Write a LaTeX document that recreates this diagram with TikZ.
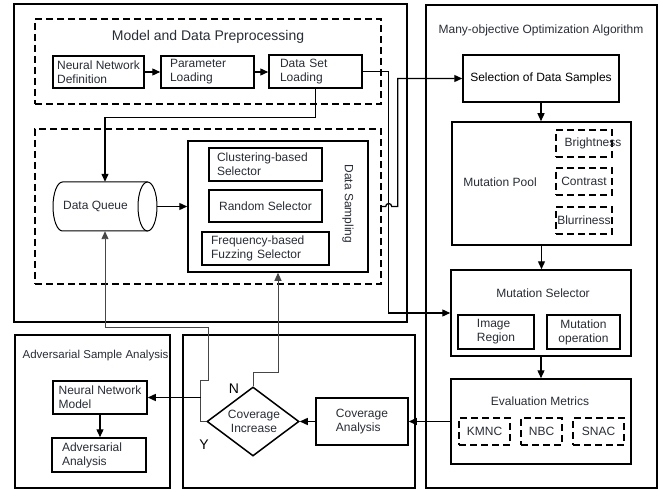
\documentclass[tikz,border=0pt]{standalone}
\usepackage{fontspec}
\setmainfont{Liberation Sans}
\usetikzlibrary{arrows.meta,shapes.geometric}
\definecolor{txt}{RGB}{40,44,54}
\definecolor{thinc}{RGB}{70,70,70}
\begin{document}
\begin{tikzpicture}[x=1pt,y=-1pt,
  font=\fontsize{12}{14}\selectfont, text=txt,
  sz/.style 2 args={minimum width=#1pt, minimum height=#2pt},
  box/.style={draw, line width=1.5pt, inner sep=0pt, align=center},
  outer/.style={draw, line width=1.3pt, inner sep=0pt},
  dbox/.style={draw, line width=1.4pt, dash pattern=on 7pt off 4pt, inner sep=0pt, align=center},
  arr/.style={line width=1.3pt, -{Triangle[length=8pt,width=7pt]}},
  thinarr/.style={line width=0.9pt, draw=thinc, -{Triangle[length=8pt,width=7pt]}},
  big/.style={font=\fontsize{14}{16}\selectfont}]
\useasboundingbox (0,0) rectangle (664,489);

% containers
\node[outer, sz={393}{318}] (lft) at (210.5,163) {};
\node[outer, sz={231}{483}] (rgt) at (541.5,246.5) {};
\node[outer, sz={155}{153}] (asa) at (92.5,411.5) {};
\node[outer, sz={232}{153}] (cov) at (299,411.5) {};
\node[dbox, sz={346}{85}] (pre) at (208,61.5) {};
\node[dbox, sz={346}{155}] (smp) at (208,206.5) {};

\node[big] (pret) at (208,37) {Model and Data Preprocessing};
\node (rgtt) at (541,30) {Many-objective Optimization Algorithm};
\node[font=\fontsize{11.5}{14}\selectfont] (asat) at (95.5,356) {Adversarial Sample Analysis};

% preprocessing
\node[box, sz={91}{32}, align=left] (nnd) at (98.5,72) {Neural Network\\Definition};
\node[box, sz={93}{32}, text width=75pt, inner xsep=9pt, align=left] (pl) at (207.5,72) {Parameter\\Loading};
\node[box, sz={93}{33}, text width=71pt, inner xsep=11pt, align=left] (dsl) at (315.5,71.5) {Data Set\\Loading};

% sampling
\node[box, sz={180}{131}] (ds) at (278,206.5) {};
\node[box, sz={113}{33}, text width=97pt, inner xsep=8pt, align=left] (cs) at (265.5,164.5) {Clustering-based\\Selector};
\node[box, sz={113}{32}] (rs) at (265.5,206) {Random Selector};
\node[box, sz={127}{33}, text width=109pt, inner xsep=9pt, align=left] (fs) at (265.5,248.5) {Frequency-based\\Fuzzing Selector};
\node[rotate=-90] (dst) at (348,204) {Data Sampling};

% data queue cylinder
\node[sz={104}{49}, inner sep=0pt] (dq) at (105,206.5) {};
\draw[line width=1pt] (147.5,182) -- (62.5,182) arc[start angle=270, end angle=90, x radius=9.5, y radius=24.5] -- (147.5,231);
\draw[line width=1pt] (147.5,206.5) ellipse [x radius=9.5, y radius=24.5];
\node (dqt) at (95.5,206.5) {Data Queue};

% right column
\node[box, sz={156}{47}, text=black] (sel) at (541,78.5) {Selection of Data Samples};
\node[box, sz={179}{123}] (mp) at (541.5,183.5) {};
\node (mpt) at (500,182) {Mutation Pool};
\node[dbox, sz={56}{27}] (br) at (584,143.5) {};
\node (brt) at (593,143.5) {Brightness};
\node[dbox, sz={56}{27}] (co) at (584,181.5) {Contrast};
\node[dbox, sz={56}{27}] (bl) at (584,220.5) {Blurriness};

\node[box, sz={180}{86}] (ms) at (541,313) {};
\node (mst) at (543,293) {Mutation Selector};
\node[box, sz={76}{34}, align=left] (ir) at (496,332) {Image\\Region};
\node[box, sz={73}{34}] (mo) at (583.5,332) {Mutation\\operation};

\node[box, sz={180}{85}] (em) at (541,421.5) {};
\node (emt) at (540,401) {Evaluation Metrics};
\node[dbox, sz={51}{27}] (km) at (484.5,431.5) {KMNC};
\node[dbox, sz={41}{27}] (nbc) at (541.5,431.5) {NBC};
\node[dbox, sz={51}{27}] (sn) at (598.5,431.5) {SNAC};

% bottom
\node[box, sz={94}{33}, align=left] (nnm) at (100,397.5) {Neural Network\\Model};
\node[box, sz={94}{34}, text width=74pt, inner xsep=10pt, align=left] (aa) at (99,455) {Adversarial\\Analysis};
\node[diamond, draw, line width=1.5pt, sz={92}{69}, inner sep=0pt] (ci) at (253,421.5) {};
\node[align=center] (cit) at (254,421) {Coverage\\Increase};
\node[box, sz={92}{47}, align=left] (ca) at (362,421.5) {Coverage\\Analysis};
\node[big, text=black] (nl) at (234,389) {N};
\node[big, text=black] (yl) at (204,445) {Y};

% connectors
\draw[arr] (nnd.east) -- (nnd.east -| pl.west);
\draw[arr] (pl.east) -- (pl.east -| dsl.west);
\draw[arr] (dsl.south) -- ++(0,29) -| (dq.north);
\draw[arr] (dq.east) -- (ds.west);
\draw[arr] (dsl.east) -- ++(26,0) |- (ms.west);
\draw[arr] (smp.east) -- ++(4,0) arc[start angle=180, end angle=360, radius=3] -- ++(6,0) |- (sel.west);
\draw[arr] (sel.south) -- (sel.south |- mp.north);
\draw[arr] (mp.south) -- (mp.south |- ms.north);
\draw[arr] (ms.south) -- (ms.south |- em.north);
\draw[arr] (em.west) -- (ca.east);
\draw[arr] (ca.west) -- (ci.east);
\draw[thinarr] (ci.north) -- ++(0,-14) -| (ds.south);
\draw[thinarr] (ci.west) -- ++(-6,0) -- ++(0,-41.5) -- ++(8,0) -- ++(0,-53) -| (dq.south);
\coordinate (yb) at (201,397.5);
\draw[arr] (yb) -- (nnm.east);
\draw[arr] (nnm.south) -- (nnm.south |- aa.north);
\end{tikzpicture}
\end{document}
